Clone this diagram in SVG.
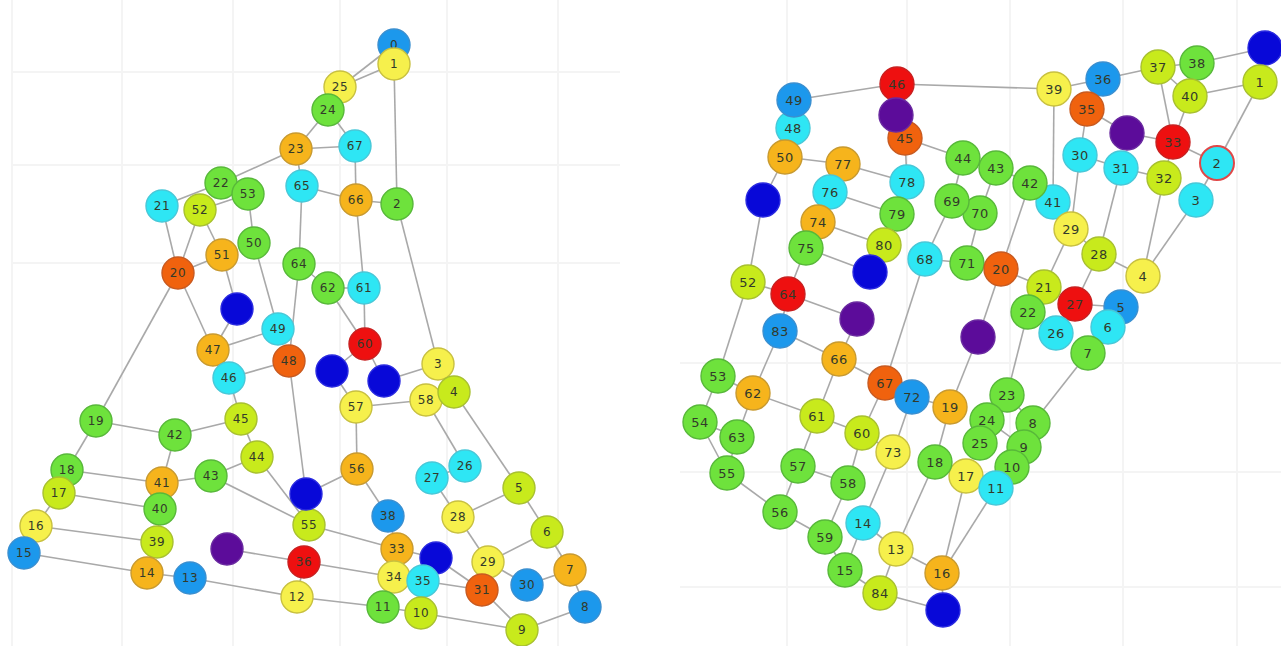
<svg xmlns="http://www.w3.org/2000/svg" width="1281" height="646" viewBox="0 0 1281 646">
<style>
.grid line{stroke:#f4f4f4;stroke-width:2}
.edges line{stroke:#a9a9a9;stroke-width:1.6}
.nd circle{stroke-width:1.4}
.nd text{font-family:"DejaVu Sans","Liberation Sans",sans-serif;font-size:12px;fill:#333a2a;text-anchor:middle;dominant-baseline:central;letter-spacing:0.5px}
.R text{font-size:13px}
.db circle{fill:#0808d8;stroke:#2a2ae0}
.b circle{fill:#1c98ec;stroke:#3a8fd0}
.cy circle{fill:#2ee6f4;stroke:#48c8d8}
.g circle{fill:#6ee23c;stroke:#58b83a}
.yg circle{fill:#c8ea1c;stroke:#a8c030}
.y circle{fill:#f6f04c;stroke:#c8c040}
.o circle{fill:#f6b41c;stroke:#c89a30}
.do circle{fill:#f0620e;stroke:#c85a20}
.r circle{fill:#ee1010;stroke:#c82020}
.p circle{fill:#5c0c9a;stroke:#6a2aa0}
.ring circle{stroke:#e04848;stroke-width:2}
</style>
<rect width="1281" height="646" fill="#ffffff"/>
<g class="grid">
<line x1="12" y1="0" x2="12" y2="646"/><line x1="122" y1="0" x2="122" y2="646"/><line x1="233" y1="0" x2="233" y2="646"/><line x1="340" y1="0" x2="340" y2="646"/><line x1="447" y1="0" x2="447" y2="646"/><line x1="558" y1="0" x2="558" y2="646"/>
<line x1="12" y1="72" x2="620" y2="72"/><line x1="12" y1="165" x2="620" y2="165"/><line x1="12" y1="263" x2="620" y2="263"/>
<line x1="787" y1="0" x2="787" y2="646"/><line x1="907" y1="0" x2="907" y2="646"/><line x1="1010" y1="0" x2="1010" y2="646"/><line x1="1123" y1="0" x2="1123" y2="646"/><line x1="1237" y1="0" x2="1237" y2="646"/>
<line x1="680" y1="363" x2="1281" y2="363"/><line x1="680" y1="472" x2="1281" y2="472"/><line x1="680" y1="587" x2="1281" y2="587"/>
</g>
<g id="connectors" class="edges">
<line x1="394" y1="45" x2="340" y2="87"/><line x1="394" y1="64" x2="340" y2="87"/><line x1="394" y1="64" x2="397" y2="204"/>
<line x1="340" y1="87" x2="328" y2="110"/><line x1="328" y1="110" x2="296" y2="149"/><line x1="328" y1="110" x2="355" y2="146"/>
<line x1="296" y1="149" x2="355" y2="146"/><line x1="296" y1="149" x2="302" y2="186"/><line x1="296" y1="149" x2="221" y2="183"/>
<line x1="302" y1="186" x2="356" y2="200"/><line x1="355" y1="146" x2="356" y2="200"/><line x1="356" y1="200" x2="397" y2="204"/>
<line x1="356" y1="200" x2="364" y2="288"/><line x1="397" y1="204" x2="438" y2="364"/><line x1="302" y1="186" x2="299" y2="264"/>
<line x1="162" y1="206" x2="221" y2="183"/><line x1="200" y1="210" x2="248" y2="194"/><line x1="221" y1="183" x2="248" y2="194"/>
<line x1="248" y1="194" x2="254" y2="243"/><line x1="162" y1="206" x2="178" y2="273"/><line x1="200" y1="210" x2="178" y2="273"/>
<line x1="200" y1="210" x2="222" y2="255"/><line x1="178" y1="273" x2="222" y2="255"/><line x1="222" y1="255" x2="237" y2="309"/>
<line x1="237" y1="309" x2="213" y2="350"/><line x1="178" y1="273" x2="213" y2="350"/><line x1="178" y1="273" x2="96" y2="421"/>
<line x1="254" y1="243" x2="278" y2="329"/><line x1="299" y1="264" x2="289" y2="361"/><line x1="213" y1="350" x2="278" y2="329"/>
<line x1="213" y1="350" x2="229" y2="378"/><line x1="229" y1="378" x2="289" y2="361"/><line x1="229" y1="378" x2="241" y2="419"/>
<line x1="289" y1="361" x2="306" y2="494"/><line x1="299" y1="264" x2="328" y2="288"/><line x1="328" y1="288" x2="364" y2="288"/>
<line x1="328" y1="288" x2="365" y2="344"/><line x1="364" y1="288" x2="365" y2="344"/><line x1="365" y1="344" x2="332" y2="371"/>
<line x1="365" y1="344" x2="384" y2="381"/><line x1="332" y1="371" x2="356" y2="407"/><line x1="384" y1="381" x2="438" y2="364"/>
<line x1="438" y1="364" x2="454" y2="392"/><line x1="356" y1="407" x2="426" y2="400"/><line x1="426" y1="400" x2="454" y2="392"/>
<line x1="426" y1="400" x2="465" y2="466"/><line x1="454" y1="392" x2="519" y2="488"/><line x1="356" y1="407" x2="357" y2="469"/>
<line x1="96" y1="421" x2="175" y2="435"/><line x1="175" y1="435" x2="241" y2="419"/><line x1="96" y1="421" x2="67" y2="470"/>
<line x1="67" y1="470" x2="162" y2="483"/><line x1="175" y1="435" x2="162" y2="483"/><line x1="162" y1="483" x2="211" y2="476"/>
<line x1="211" y1="476" x2="257" y2="457"/><line x1="257" y1="457" x2="241" y2="419"/><line x1="257" y1="457" x2="309" y2="525"/>
<line x1="211" y1="476" x2="309" y2="525"/><line x1="67" y1="470" x2="59" y2="493"/><line x1="59" y1="493" x2="160" y2="509"/>
<line x1="162" y1="483" x2="160" y2="509"/><line x1="160" y1="509" x2="157" y2="542"/><line x1="59" y1="493" x2="36" y2="526"/>
<line x1="36" y1="526" x2="157" y2="542"/><line x1="36" y1="526" x2="24" y2="553"/><line x1="24" y1="553" x2="147" y2="573"/>
<line x1="157" y1="542" x2="147" y2="573"/><line x1="147" y1="573" x2="190" y2="578"/><line x1="190" y1="578" x2="297" y2="597"/>
<line x1="227" y1="549" x2="304" y2="562"/><line x1="304" y1="562" x2="297" y2="597"/><line x1="304" y1="562" x2="394" y2="577"/>
<line x1="297" y1="597" x2="383" y2="607"/><line x1="383" y1="607" x2="421" y2="613"/><line x1="421" y1="613" x2="522" y2="630"/>
<line x1="423" y1="581" x2="421" y2="613"/><line x1="394" y1="577" x2="423" y2="581"/><line x1="397" y1="549" x2="394" y2="577"/>
<line x1="309" y1="525" x2="397" y2="549"/><line x1="357" y1="469" x2="306" y2="494"/><line x1="306" y1="494" x2="309" y2="525"/>
<line x1="357" y1="469" x2="388" y2="516"/><line x1="388" y1="516" x2="397" y2="549"/><line x1="397" y1="549" x2="436" y2="558"/>
<line x1="436" y1="558" x2="482" y2="590"/><line x1="423" y1="581" x2="482" y2="590"/><line x1="482" y1="590" x2="488" y2="562"/>
<line x1="482" y1="590" x2="522" y2="630"/><line x1="488" y1="562" x2="458" y2="517"/><line x1="458" y1="517" x2="432" y2="478"/>
<line x1="432" y1="478" x2="465" y2="466"/><line x1="458" y1="517" x2="519" y2="488"/><line x1="519" y1="488" x2="547" y2="532"/>
<line x1="547" y1="532" x2="488" y2="562"/><line x1="547" y1="532" x2="570" y2="570"/><line x1="570" y1="570" x2="527" y2="585"/>
<line x1="488" y1="562" x2="527" y2="585"/><line x1="570" y1="570" x2="585" y2="607"/><line x1="585" y1="607" x2="522" y2="630"/>
<line x1="1265" y1="48" x2="1197" y2="63"/><line x1="1158" y1="67" x2="1197" y2="63"/><line x1="1158" y1="67" x2="1103" y2="79"/>
<line x1="1103" y1="79" x2="1054" y2="89"/><line x1="1054" y1="89" x2="897" y2="84"/><line x1="897" y1="84" x2="794" y2="100"/>
<line x1="1054" y1="89" x2="1053" y2="202"/><line x1="1103" y1="79" x2="1087" y2="109"/><line x1="1087" y1="109" x2="1127" y2="133"/>
<line x1="1127" y1="133" x2="1173" y2="142"/><line x1="1158" y1="67" x2="1173" y2="142"/><line x1="1190" y1="96" x2="1173" y2="142"/>
<line x1="1158" y1="67" x2="1190" y2="96"/><line x1="1190" y1="96" x2="1260" y2="82"/><line x1="1260" y1="82" x2="1217" y2="163"/>
<line x1="1173" y1="142" x2="1217" y2="163"/><line x1="1173" y1="142" x2="1164" y2="178"/><line x1="1217" y1="163" x2="1196" y2="200"/>
<line x1="1087" y1="109" x2="1080" y2="155"/><line x1="1080" y1="155" x2="1121" y2="168"/><line x1="1121" y1="168" x2="1164" y2="178"/>
<line x1="1080" y1="155" x2="1071" y2="229"/><line x1="1121" y1="168" x2="1099" y2="254"/><line x1="1164" y1="178" x2="1143" y2="276"/>
<line x1="1196" y1="200" x2="1143" y2="276"/><line x1="963" y1="158" x2="996" y2="168"/><line x1="996" y1="168" x2="1030" y2="183"/>
<line x1="1030" y1="183" x2="1053" y2="202"/><line x1="996" y1="168" x2="980" y2="213"/><line x1="1030" y1="183" x2="1001" y2="269"/>
<line x1="980" y1="213" x2="967" y2="263"/><line x1="952" y1="201" x2="980" y2="213"/><line x1="963" y1="158" x2="952" y2="201"/>
<line x1="905" y1="138" x2="963" y2="158"/><line x1="905" y1="138" x2="907" y2="182"/><line x1="897" y1="84" x2="896" y2="115"/>
<line x1="896" y1="115" x2="905" y2="138"/><line x1="794" y1="100" x2="793" y2="128"/><line x1="793" y1="128" x2="785" y2="157"/>
<line x1="785" y1="157" x2="843" y2="164"/><line x1="843" y1="164" x2="907" y2="182"/><line x1="785" y1="157" x2="763" y2="200"/>
<line x1="843" y1="164" x2="830" y2="192"/><line x1="830" y1="192" x2="897" y2="214"/><line x1="907" y1="182" x2="897" y2="214"/>
<line x1="830" y1="192" x2="818" y2="222"/><line x1="818" y1="222" x2="884" y2="245"/><line x1="818" y1="222" x2="806" y2="248"/>
<line x1="897" y1="214" x2="884" y2="245"/><line x1="884" y1="245" x2="870" y2="272"/><line x1="806" y1="248" x2="870" y2="272"/>
<line x1="952" y1="201" x2="925" y2="259"/><line x1="925" y1="259" x2="967" y2="263"/><line x1="967" y1="263" x2="1001" y2="269"/>
<line x1="1001" y1="269" x2="1044" y2="287"/><line x1="1044" y1="287" x2="1028" y2="312"/><line x1="1044" y1="287" x2="1071" y2="229"/>
<line x1="1071" y1="229" x2="1099" y2="254"/><line x1="1099" y1="254" x2="1075" y2="304"/><line x1="1099" y1="254" x2="1143" y2="276"/>
<line x1="1075" y1="304" x2="1121" y2="307"/><line x1="1121" y1="307" x2="1108" y2="327"/><line x1="1108" y1="327" x2="1088" y2="353"/>
<line x1="1088" y1="353" x2="1033" y2="423"/><line x1="1028" y1="312" x2="1007" y2="395"/><line x1="1007" y1="395" x2="987" y2="420"/>
<line x1="1007" y1="395" x2="1033" y2="423"/><line x1="987" y1="420" x2="980" y2="443"/><line x1="987" y1="420" x2="1024" y2="447"/>
<line x1="1033" y1="423" x2="1024" y2="447"/>
<line x1="1024" y1="447" x2="1012" y2="467"/><line x1="1012" y1="467" x2="996" y2="488"/><line x1="1001" y1="269" x2="978" y2="337"/>
<line x1="978" y1="337" x2="950" y2="407"/><line x1="950" y1="407" x2="912" y2="397"/><line x1="912" y1="397" x2="885" y2="383"/>
<line x1="912" y1="397" x2="893" y2="452"/><line x1="950" y1="407" x2="935" y2="462"/><line x1="935" y1="462" x2="896" y2="549"/>
<line x1="925" y1="259" x2="885" y2="383"/><line x1="885" y1="383" x2="839" y2="359"/><line x1="885" y1="383" x2="862" y2="433"/>
<line x1="839" y1="359" x2="857" y2="319"/><line x1="857" y1="319" x2="788" y2="294"/><line x1="788" y1="294" x2="806" y2="248"/>
<line x1="788" y1="294" x2="748" y2="282"/><line x1="748" y1="282" x2="763" y2="200"/><line x1="788" y1="294" x2="780" y2="331"/>
<line x1="780" y1="331" x2="839" y2="359"/><line x1="780" y1="331" x2="753" y2="393"/><line x1="839" y1="359" x2="817" y2="416"/>
<line x1="748" y1="282" x2="718" y2="376"/><line x1="718" y1="376" x2="753" y2="393"/><line x1="753" y1="393" x2="817" y2="416"/>
<line x1="718" y1="376" x2="700" y2="422"/><line x1="700" y1="422" x2="737" y2="437"/><line x1="753" y1="393" x2="737" y2="437"/>
<line x1="700" y1="422" x2="727" y2="473"/><line x1="737" y1="437" x2="727" y2="473"/><line x1="817" y1="416" x2="862" y2="433"/>
<line x1="817" y1="416" x2="798" y2="466"/><line x1="862" y1="433" x2="848" y2="483"/><line x1="798" y1="466" x2="848" y2="483"/>
<line x1="727" y1="473" x2="780" y2="512"/><line x1="798" y1="466" x2="780" y2="512"/><line x1="848" y1="483" x2="825" y2="537"/>
<line x1="780" y1="512" x2="825" y2="537"/><line x1="825" y1="537" x2="845" y2="570"/><line x1="893" y1="452" x2="863" y2="523"/>
<line x1="863" y1="523" x2="845" y2="570"/><line x1="863" y1="523" x2="896" y2="549"/><line x1="896" y1="549" x2="880" y2="593"/>
<line x1="845" y1="570" x2="880" y2="593"/><line x1="896" y1="549" x2="942" y2="573"/><line x1="880" y1="593" x2="943" y2="610"/>
<line x1="942" y1="573" x2="943" y2="610"/><line x1="966" y1="476" x2="942" y2="573"/><line x1="996" y1="488" x2="942" y2="573"/>
<line x1="862" y1="433" x2="893" y2="452"/>
</g>
<g id="L0" class="nd b"><circle cx="394" cy="45" r="16"/><text x="394" y="45">0</text></g>
<g id="L1" class="nd y"><circle cx="394" cy="64" r="16"/><text x="394" y="64">1</text></g>
<g id="L25" class="nd y"><circle cx="340" cy="87" r="16"/><text x="340" y="87">25</text></g>
<g id="L24" class="nd g"><circle cx="328" cy="110" r="16"/><text x="328" y="110">24</text></g>
<g id="L23" class="nd o"><circle cx="296" cy="149" r="16"/><text x="296" y="149">23</text></g>
<g id="L67" class="nd cy"><circle cx="355" cy="146" r="16"/><text x="355" y="146">67</text></g>
<g id="L65" class="nd cy"><circle cx="302" cy="186" r="16"/><text x="302" y="186">65</text></g>
<g id="L66" class="nd o"><circle cx="356" cy="200" r="16"/><text x="356" y="200">66</text></g>
<g id="L2" class="nd g"><circle cx="397" cy="204" r="16"/><text x="397" y="204">2</text></g>
<g id="L22" class="nd g"><circle cx="221" cy="183" r="16"/><text x="221" y="183">22</text></g>
<g id="L53" class="nd g"><circle cx="248" cy="194" r="16"/><text x="248" y="194">53</text></g>
<g id="L21" class="nd cy"><circle cx="162" cy="206" r="16"/><text x="162" y="206">21</text></g>
<g id="L52" class="nd yg"><circle cx="200" cy="210" r="16"/><text x="200" y="210">52</text></g>
<g id="L50" class="nd g"><circle cx="254" cy="243" r="16"/><text x="254" y="243">50</text></g>
<g id="L20" class="nd do"><circle cx="178" cy="273" r="16"/><text x="178" y="273">20</text></g>
<g id="L51" class="nd o"><circle cx="222" cy="255" r="16"/><text x="222" y="255">51</text></g>
<g id="L64" class="nd g"><circle cx="299" cy="264" r="16"/><text x="299" y="264">64</text></g>
<g id="L62" class="nd g"><circle cx="328" cy="288" r="16"/><text x="328" y="288">62</text></g>
<g id="L61" class="nd cy"><circle cx="364" cy="288" r="16"/><text x="364" y="288">61</text></g>
<g id="Ld1" class="nd db"><circle cx="237" cy="309" r="16"/></g>
<g id="L49" class="nd cy"><circle cx="278" cy="329" r="16"/><text x="278" y="329">49</text></g>
<g id="L60" class="nd r"><circle cx="365" cy="344" r="16"/><text x="365" y="344">60</text></g>
<g id="L47" class="nd o"><circle cx="213" cy="350" r="16"/><text x="213" y="350">47</text></g>
<g id="L48" class="nd do"><circle cx="289" cy="361" r="16"/><text x="289" y="361">48</text></g>
<g id="L46" class="nd cy"><circle cx="229" cy="378" r="16"/><text x="229" y="378">46</text></g>
<g id="Ld2" class="nd db"><circle cx="332" cy="371" r="16"/></g>
<g id="Ld3" class="nd db"><circle cx="384" cy="381" r="16"/></g>
<g id="L3" class="nd y"><circle cx="438" cy="364" r="16"/><text x="438" y="364">3</text></g>
<g id="L58" class="nd y"><circle cx="426" cy="400" r="16"/><text x="426" y="400">58</text></g>
<g id="L4" class="nd yg"><circle cx="454" cy="392" r="16"/><text x="454" y="392">4</text></g>
<g id="L57" class="nd y"><circle cx="356" cy="407" r="16"/><text x="356" y="407">57</text></g>
<g id="L45" class="nd yg"><circle cx="241" cy="419" r="16"/><text x="241" y="419">45</text></g>
<g id="L19" class="nd g"><circle cx="96" cy="421" r="16"/><text x="96" y="421">19</text></g>
<g id="L42" class="nd g"><circle cx="175" cy="435" r="16"/><text x="175" y="435">42</text></g>
<g id="L44" class="nd yg"><circle cx="257" cy="457" r="16"/><text x="257" y="457">44</text></g>
<g id="L56" class="nd o"><circle cx="357" cy="469" r="16"/><text x="357" y="469">56</text></g>
<g id="L26" class="nd cy"><circle cx="465" cy="466" r="16"/><text x="465" y="466">26</text></g>
<g id="L27" class="nd cy"><circle cx="432" cy="478" r="16"/><text x="432" y="478">27</text></g>
<g id="L18" class="nd g"><circle cx="67" cy="470" r="16"/><text x="67" y="470">18</text></g>
<g id="L43" class="nd g"><circle cx="211" cy="476" r="16"/><text x="211" y="476">43</text></g>
<g id="L41" class="nd o"><circle cx="162" cy="483" r="16"/><text x="162" y="483">41</text></g>
<g id="L5" class="nd yg"><circle cx="519" cy="488" r="16"/><text x="519" y="488">5</text></g>
<g id="L17" class="nd yg"><circle cx="59" cy="493" r="16"/><text x="59" y="493">17</text></g>
<g id="L40" class="nd g"><circle cx="160" cy="509" r="16"/><text x="160" y="509">40</text></g>
<g id="L55" class="nd yg"><circle cx="309" cy="525" r="16"/><text x="309" y="525">55</text></g>
<g id="Ld4" class="nd db"><circle cx="306" cy="494" r="16"/></g>
<g id="L38" class="nd b"><circle cx="388" cy="516" r="16"/><text x="388" y="516">38</text></g>
<g id="L28" class="nd y"><circle cx="458" cy="517" r="16"/><text x="458" y="517">28</text></g>
<g id="L16" class="nd y"><circle cx="36" cy="526" r="16"/><text x="36" y="526">16</text></g>
<g id="L6" class="nd yg"><circle cx="547" cy="532" r="16"/><text x="547" y="532">6</text></g>
<g id="L39" class="nd yg"><circle cx="157" cy="542" r="16"/><text x="157" y="542">39</text></g>
<g id="Lp1" class="nd p"><circle cx="227" cy="549" r="16"/></g>
<g id="L33" class="nd o"><circle cx="397" cy="549" r="16"/><text x="397" y="549">33</text></g>
<g id="Ld5" class="nd db"><circle cx="436" cy="558" r="16"/></g>
<g id="L29" class="nd y"><circle cx="488" cy="562" r="16"/><text x="488" y="562">29</text></g>
<g id="L36" class="nd r"><circle cx="304" cy="562" r="16"/><text x="304" y="562">36</text></g>
<g id="L15" class="nd b"><circle cx="24" cy="553" r="16"/><text x="24" y="553">15</text></g>
<g id="L34" class="nd y"><circle cx="394" cy="577" r="16"/><text x="394" y="577">34</text></g>
<g id="L35" class="nd cy"><circle cx="423" cy="581" r="16"/><text x="423" y="581">35</text></g>
<g id="L31" class="nd do"><circle cx="482" cy="590" r="16"/><text x="482" y="590">31</text></g>
<g id="L7" class="nd o"><circle cx="570" cy="570" r="16"/><text x="570" y="570">7</text></g>
<g id="L30" class="nd b"><circle cx="527" cy="585" r="16"/><text x="527" y="585">30</text></g>
<g id="L14" class="nd o"><circle cx="147" cy="573" r="16"/><text x="147" y="573">14</text></g>
<g id="L13" class="nd b"><circle cx="190" cy="578" r="16"/><text x="190" y="578">13</text></g>
<g id="L12" class="nd y"><circle cx="297" cy="597" r="16"/><text x="297" y="597">12</text></g>
<g id="L11" class="nd g"><circle cx="383" cy="607" r="16"/><text x="383" y="607">11</text></g>
<g id="L10" class="nd yg"><circle cx="421" cy="613" r="16"/><text x="421" y="613">10</text></g>
<g id="L8" class="nd b"><circle cx="585" cy="607" r="16"/><text x="585" y="607">8</text></g>
<g id="L9" class="nd yg"><circle cx="522" cy="630" r="16"/><text x="522" y="630">9</text></g>
<g id="R0" class="nd R db"><circle cx="1265" cy="48" r="17"/></g>
<g id="R37" class="nd R yg"><circle cx="1158" cy="67" r="17"/><text x="1158" y="67">37</text></g>
<g id="R38" class="nd R g"><circle cx="1197" cy="63" r="17"/><text x="1197" y="63">38</text></g>
<g id="R39" class="nd R y"><circle cx="1054" cy="89" r="17"/><text x="1054" y="89">39</text></g>
<g id="R36" class="nd R b"><circle cx="1103" cy="79" r="17"/><text x="1103" y="79">36</text></g>
<g id="R1" class="nd R yg"><circle cx="1260" cy="82" r="17"/><text x="1260" y="82">1</text></g>
<g id="R40" class="nd R yg"><circle cx="1190" cy="96" r="17"/><text x="1190" y="96">40</text></g>
<g id="R35" class="nd R do"><circle cx="1087" cy="109" r="17"/><text x="1087" y="109">35</text></g>
<g id="Rp1" class="nd R p"><circle cx="1127" cy="133" r="17"/></g>
<g id="R33" class="nd R r"><circle cx="1173" cy="142" r="17"/><text x="1173" y="142">33</text></g>
<g id="R2" class="nd R cy ring"><circle cx="1217" cy="163" r="17"/><text x="1217" y="163">2</text></g>
<g id="R30" class="nd R cy"><circle cx="1080" cy="155" r="17"/><text x="1080" y="155">30</text></g>
<g id="R31" class="nd R cy"><circle cx="1121" cy="168" r="17"/><text x="1121" y="168">31</text></g>
<g id="R32" class="nd R yg"><circle cx="1164" cy="178" r="17"/><text x="1164" y="178">32</text></g>
<g id="R44" class="nd R g"><circle cx="963" cy="158" r="17"/><text x="963" y="158">44</text></g>
<g id="R43" class="nd R g"><circle cx="996" cy="168" r="17"/><text x="996" y="168">43</text></g>
<g id="R41" class="nd R cy"><circle cx="1053" cy="202" r="17"/><text x="1053" y="202">41</text></g>
<g id="R42" class="nd R g"><circle cx="1030" cy="183" r="17"/><text x="1030" y="183">42</text></g>
<g id="R3" class="nd R cy"><circle cx="1196" cy="200" r="17"/><text x="1196" y="200">3</text></g>
<g id="R70" class="nd R g"><circle cx="980" cy="213" r="17"/><text x="980" y="213">70</text></g>
<g id="R29" class="nd R y"><circle cx="1071" cy="229" r="17"/><text x="1071" y="229">29</text></g>
<g id="R45" class="nd R do"><circle cx="905" cy="138" r="17"/><text x="905" y="138">45</text></g>
<g id="R46" class="nd R r"><circle cx="897" cy="84" r="17"/><text x="897" y="84">46</text></g>
<g id="Rp2" class="nd R p"><circle cx="896" cy="115" r="17"/></g>
<g id="R48" class="nd R cy"><circle cx="793" cy="128" r="17"/><text x="793" y="128">48</text></g>
<g id="R49" class="nd R b"><circle cx="794" cy="100" r="17"/><text x="794" y="100">49</text></g>
<g id="R50" class="nd R o"><circle cx="785" cy="157" r="17"/><text x="785" y="157">50</text></g>
<g id="R77" class="nd R o"><circle cx="843" cy="164" r="17"/><text x="843" y="164">77</text></g>
<g id="R78" class="nd R cy"><circle cx="907" cy="182" r="17"/><text x="907" y="182">78</text></g>
<g id="R76" class="nd R cy"><circle cx="830" cy="192" r="17"/><text x="830" y="192">76</text></g>
<g id="Rd1" class="nd R db"><circle cx="763" cy="200" r="17"/></g>
<g id="R69" class="nd R g"><circle cx="952" cy="201" r="17"/><text x="952" y="201">69</text></g>
<g id="R79" class="nd R g"><circle cx="897" cy="214" r="17"/><text x="897" y="214">79</text></g>
<g id="R74" class="nd R o"><circle cx="818" cy="222" r="17"/><text x="818" y="222">74</text></g>
<g id="R80" class="nd R yg"><circle cx="884" cy="245" r="17"/><text x="884" y="245">80</text></g>
<g id="R75" class="nd R g"><circle cx="806" cy="248" r="17"/><text x="806" y="248">75</text></g>
<g id="R68" class="nd R cy"><circle cx="925" cy="259" r="17"/><text x="925" y="259">68</text></g>
<g id="R71" class="nd R g"><circle cx="967" cy="263" r="17"/><text x="967" y="263">71</text></g>
<g id="Rd2" class="nd R db"><circle cx="870" cy="272" r="17"/></g>
<g id="R52" class="nd R yg"><circle cx="748" cy="282" r="17"/><text x="748" y="282">52</text></g>
<g id="R64" class="nd R r"><circle cx="788" cy="294" r="17"/><text x="788" y="294">64</text></g>
<g id="Rp3" class="nd R p"><circle cx="857" cy="319" r="17"/></g>
<g id="R83" class="nd R b"><circle cx="780" cy="331" r="17"/><text x="780" y="331">83</text></g>
<g id="R66" class="nd R o"><circle cx="839" cy="359" r="17"/><text x="839" y="359">66</text></g>
<g id="Rp4" class="nd R p"><circle cx="978" cy="337" r="17"/></g>
<g id="R53" class="nd R g"><circle cx="718" cy="376" r="17"/><text x="718" y="376">53</text></g>
<g id="R67" class="nd R do"><circle cx="885" cy="383" r="17"/><text x="885" y="383">67</text></g>
<g id="R72" class="nd R b"><circle cx="912" cy="397" r="17"/><text x="912" y="397">72</text></g>
<g id="R62" class="nd R o"><circle cx="753" cy="393" r="17"/><text x="753" y="393">62</text></g>
<g id="R19" class="nd R o"><circle cx="950" cy="407" r="17"/><text x="950" y="407">19</text></g>
<g id="R61" class="nd R yg"><circle cx="817" cy="416" r="17"/><text x="817" y="416">61</text></g>
<g id="R54" class="nd R g"><circle cx="700" cy="422" r="17"/><text x="700" y="422">54</text></g>
<g id="R60" class="nd R yg"><circle cx="862" cy="433" r="17"/><text x="862" y="433">60</text></g>
<g id="R63" class="nd R g"><circle cx="737" cy="437" r="17"/><text x="737" y="437">63</text></g>
<g id="R28" class="nd R yg"><circle cx="1099" cy="254" r="17"/><text x="1099" y="254">28</text></g>
<g id="R20" class="nd R do"><circle cx="1001" cy="269" r="17"/><text x="1001" y="269">20</text></g>
<g id="R4" class="nd R y"><circle cx="1143" cy="276" r="17"/><text x="1143" y="276">4</text></g>
<g id="R21" class="nd R yg"><circle cx="1044" cy="287" r="17"/><text x="1044" y="287">21</text></g>
<g id="R27" class="nd R r"><circle cx="1075" cy="304" r="17"/><text x="1075" y="304">27</text></g>
<g id="R5" class="nd R b"><circle cx="1121" cy="307" r="17"/><text x="1121" y="307">5</text></g>
<g id="R22" class="nd R g"><circle cx="1028" cy="312" r="17"/><text x="1028" y="312">22</text></g>
<g id="R26" class="nd R cy"><circle cx="1056" cy="333" r="17"/><text x="1056" y="333">26</text></g>
<g id="R6" class="nd R cy"><circle cx="1108" cy="327" r="17"/><text x="1108" y="327">6</text></g>
<g id="R7" class="nd R g"><circle cx="1088" cy="353" r="17"/><text x="1088" y="353">7</text></g>
<g id="R23" class="nd R g"><circle cx="1007" cy="395" r="17"/><text x="1007" y="395">23</text></g>
<g id="R24" class="nd R g"><circle cx="987" cy="420" r="17"/><text x="987" y="420">24</text></g>
<g id="R8" class="nd R g"><circle cx="1033" cy="423" r="17"/><text x="1033" y="423">8</text></g>
<g id="R25" class="nd R g"><circle cx="980" cy="443" r="17"/><text x="980" y="443">25</text></g>
<g id="R9" class="nd R g"><circle cx="1024" cy="447" r="17"/><text x="1024" y="447">9</text></g>
<g id="R10" class="nd R g"><circle cx="1012" cy="467" r="17"/><text x="1012" y="467">10</text></g>
<g id="R17" class="nd R y"><circle cx="966" cy="476" r="17"/><text x="966" y="476">17</text></g>
<g id="R11" class="nd R cy"><circle cx="996" cy="488" r="17"/><text x="996" y="488">11</text></g>
<g id="R73" class="nd R y"><circle cx="893" cy="452" r="17"/><text x="893" y="452">73</text></g>
<g id="R18" class="nd R g"><circle cx="935" cy="462" r="17"/><text x="935" y="462">18</text></g>
<g id="R55" class="nd R g"><circle cx="727" cy="473" r="17"/><text x="727" y="473">55</text></g>
<g id="R57" class="nd R g"><circle cx="798" cy="466" r="17"/><text x="798" y="466">57</text></g>
<g id="R58" class="nd R g"><circle cx="848" cy="483" r="17"/><text x="848" y="483">58</text></g>
<g id="R56" class="nd R g"><circle cx="780" cy="512" r="17"/><text x="780" y="512">56</text></g>
<g id="R14" class="nd R cy"><circle cx="863" cy="523" r="17"/><text x="863" y="523">14</text></g>
<g id="R59" class="nd R g"><circle cx="825" cy="537" r="17"/><text x="825" y="537">59</text></g>
<g id="R13" class="nd R y"><circle cx="896" cy="549" r="17"/><text x="896" y="549">13</text></g>
<g id="R15" class="nd R g"><circle cx="845" cy="570" r="17"/><text x="845" y="570">15</text></g>
<g id="R16" class="nd R o"><circle cx="942" cy="573" r="17"/><text x="942" y="573">16</text></g>
<g id="R84" class="nd R yg"><circle cx="880" cy="593" r="17"/><text x="880" y="593">84</text></g>
<g id="Rd3" class="nd R db"><circle cx="943" cy="610" r="17"/></g>
</svg>
